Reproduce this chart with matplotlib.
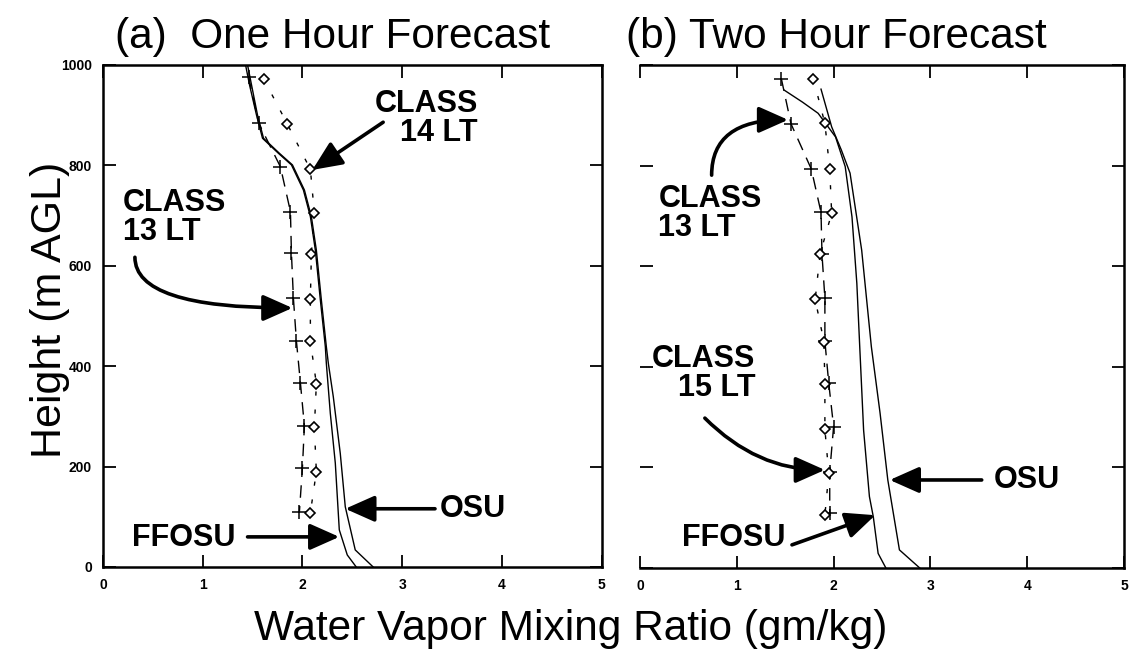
import numpy as np
import matplotlib.pyplot as plt

plt.rcParams['font.family'] = ['Liberation Sans', 'DejaVu Sans']

# (a) one hour forecast
a_c13_q = [1.46, 1.56, 1.78, 1.88, 1.89, 1.91, 1.94, 1.98, 2.02, 2.00, 1.97]
a_c13_z = [977, 885, 797, 708, 625, 535, 450, 367, 281, 197, 110]
a_c14_q = [1.61, 1.85, 2.08, 2.12, 2.09, 2.08, 2.08, 2.14, 2.12, 2.14, 2.08]
a_c14_z = [973, 882, 792, 705, 623, 533, 450, 365, 278, 190, 108]
a_ffosu_q = [1.43, 1.47, 1.54, 1.60, 1.76, 1.89, 2.01, 2.08, 2.13, 2.18, 2.23, 2.24, 2.28, 2.33, 2.37, 2.45, 2.54]
a_ffosu_z = [1000, 960, 900, 854, 824, 801, 751, 698, 631, 532, 439, 406, 306, 207, 74, 24, 0]
a_osu_q = [1.45, 1.55, 1.61, 1.77, 1.90, 2.02, 2.09, 2.14, 2.19, 2.24, 2.26, 2.31, 2.38, 2.43, 2.53, 2.71]
a_osu_z = [1000, 900, 854, 824, 801, 751, 698, 631, 532, 439, 406, 339, 226, 120, 34, 0]

# (b) two hour forecast
b_c13_q = [1.46, 1.56, 1.77, 1.87, 1.88, 1.91, 1.91, 1.95, 2.00, 1.96, 1.96]
b_c13_z = [973, 883, 793, 707, 624, 536, 451, 367, 281, 191, 110]
b_c15_q = [1.79, 1.91, 1.96, 1.98, 1.86, 1.81, 1.90, 1.91, 1.91, 1.95, 1.91]
b_c15_z = [973, 884, 793, 705, 624, 534, 450, 366, 276, 188, 105]
b_ffosu_q = [1.49, 1.68, 1.84, 2.02, 2.12, 2.19, 2.24, 2.27, 2.31, 2.37, 2.41, 2.46, 2.54]
b_ffosu_z = [950, 926, 904, 857, 798, 698, 566, 440, 274, 142, 102, 29, 0]
b_osu_q = [1.87, 1.98, 2.08, 2.17, 2.29, 2.39, 2.48, 2.56, 2.68, 2.89]
b_osu_z = [952, 877, 831, 785, 632, 440, 308, 175, 36, 0]

x_ticks = [0, 1, 2, 3, 4, 5]
y_ticks = [0, 200, 400, 600, 800, 1000]

# labels: text, text position, alignment, arrow start, arrow end, connection
a_notes = [
    ("CLASS\n14 LT", (3.76, 893), 'right', (2.81, 886), (2.10, 791), "arc3"),
    ("CLASS\n13 LT", (0.20, 696), 'left', (0.32, 617), (1.90, 516), "angle3,angleA=90,angleB=0"),
    ("OSU", (3.38, 116), 'left', (3.33, 116), (2.43, 116), "arc3"),
    ("FFOSU", (0.29, 58), 'left', (1.45, 60), (2.37, 60), "arc3"),
]
b_notes = [
    ("CLASS\n13 LT", (0.19, 704), 'left', (0.74, 781), (1.53, 891), "angle3,angleA=90,angleB=0"),
    ("CLASS\n15 LT", (1.19, 386), 'right', (0.67, 298), (1.91, 195), "angle3,angleA=-45,angleB=0"),
    ("OSU", (3.65, 175), 'left', (3.53, 175), (2.58, 175), "arc3"),
    ("FFOSU", (0.43, 60), 'left', (1.57, 46), (2.43, 105), "arc3"),
]

fig = plt.figure(figsize=(11.31, 6.59), dpi=100)
ax1 = fig.add_axes([103/1131, 92/659, 498.5/1131, 502/659])
ax2 = fig.add_axes([640/1131, 91/659, 484/1131, 503/659])


def panel(ax, c1q, c1z, c2q, c2z, fq, fz, oq, oz, notes):
    ax.plot(fq, fz, color='black', lw=1.0)
    ax.plot(oq, oz, color='black', lw=1.0)
    ax.plot(c1q, c1z, color='black', lw=1.0, ls=(0, (9, 6)),
            marker='+', ms=10, mew=1.1)
    ax.plot(c2q, c2z, color='black', lw=1.0, ls=(0, (3, 10)),
            marker='D', ms=5.5, mew=1.2, mfc='white', mec='black')
    for txt, pos, ha, start, end, conn in notes:
        ax.text(pos[0], pos[1], txt, ha=ha, va='center', multialignment=ha,
                fontsize=22, fontweight='bold', linespacing=0.95)
        ax.annotate('', xy=end, xytext=start,
                    arrowprops=dict(arrowstyle='-|>,head_length=0.9,head_width=0.4',
                                    lw=2.6, color='black', shrinkA=0, shrinkB=0,
                                    mutation_scale=20, connectionstyle=conn))
    ax.set_xlim(0, 5)
    ax.set_ylim(0, 1000)
    ax.set_xticks(x_ticks)
    ax.set_yticks(y_ticks)
    ax.tick_params(direction='in', top=True, right=True, length=9, width=1.3,
                   labelsize=10, pad=8)
    for lab in ax.get_xticklabels() + ax.get_yticklabels():
        lab.set_fontweight('bold')
    for s in ax.spines.values():
        s.set_linewidth(1.8)


panel(ax1, a_c13_q, a_c13_z, a_c14_q, a_c14_z, a_ffosu_q, a_ffosu_z,
      a_osu_q, a_osu_z, a_notes)
panel(ax2, b_c13_q, b_c13_z, b_c15_q, b_c15_z, b_ffosu_q, b_ffosu_z,
      b_osu_q, b_osu_z, b_notes)
ax2.set_yticklabels([])
ax2.spines['left'].set_visible(False)

fig.text(115/1131, 1 - 48/659, "(a)  One Hour Forecast", fontsize=30.5,
         ha='left', va='baseline')
fig.text(626/1131, 1 - 48/659, "(b) Two Hour Forecast", fontsize=30.5,
         ha='left', va='baseline')
fig.text(50/1131, 1 - 310/659, "Height (m AGL)", fontsize=31,
         rotation=90, ha='center', va='center')
fig.text(571/1131, 19/659, "Water Vapor Mixing Ratio (gm/kg)", fontsize=30.5,
         ha='center', va='baseline')

fig.savefig('out.png', dpi=100)
